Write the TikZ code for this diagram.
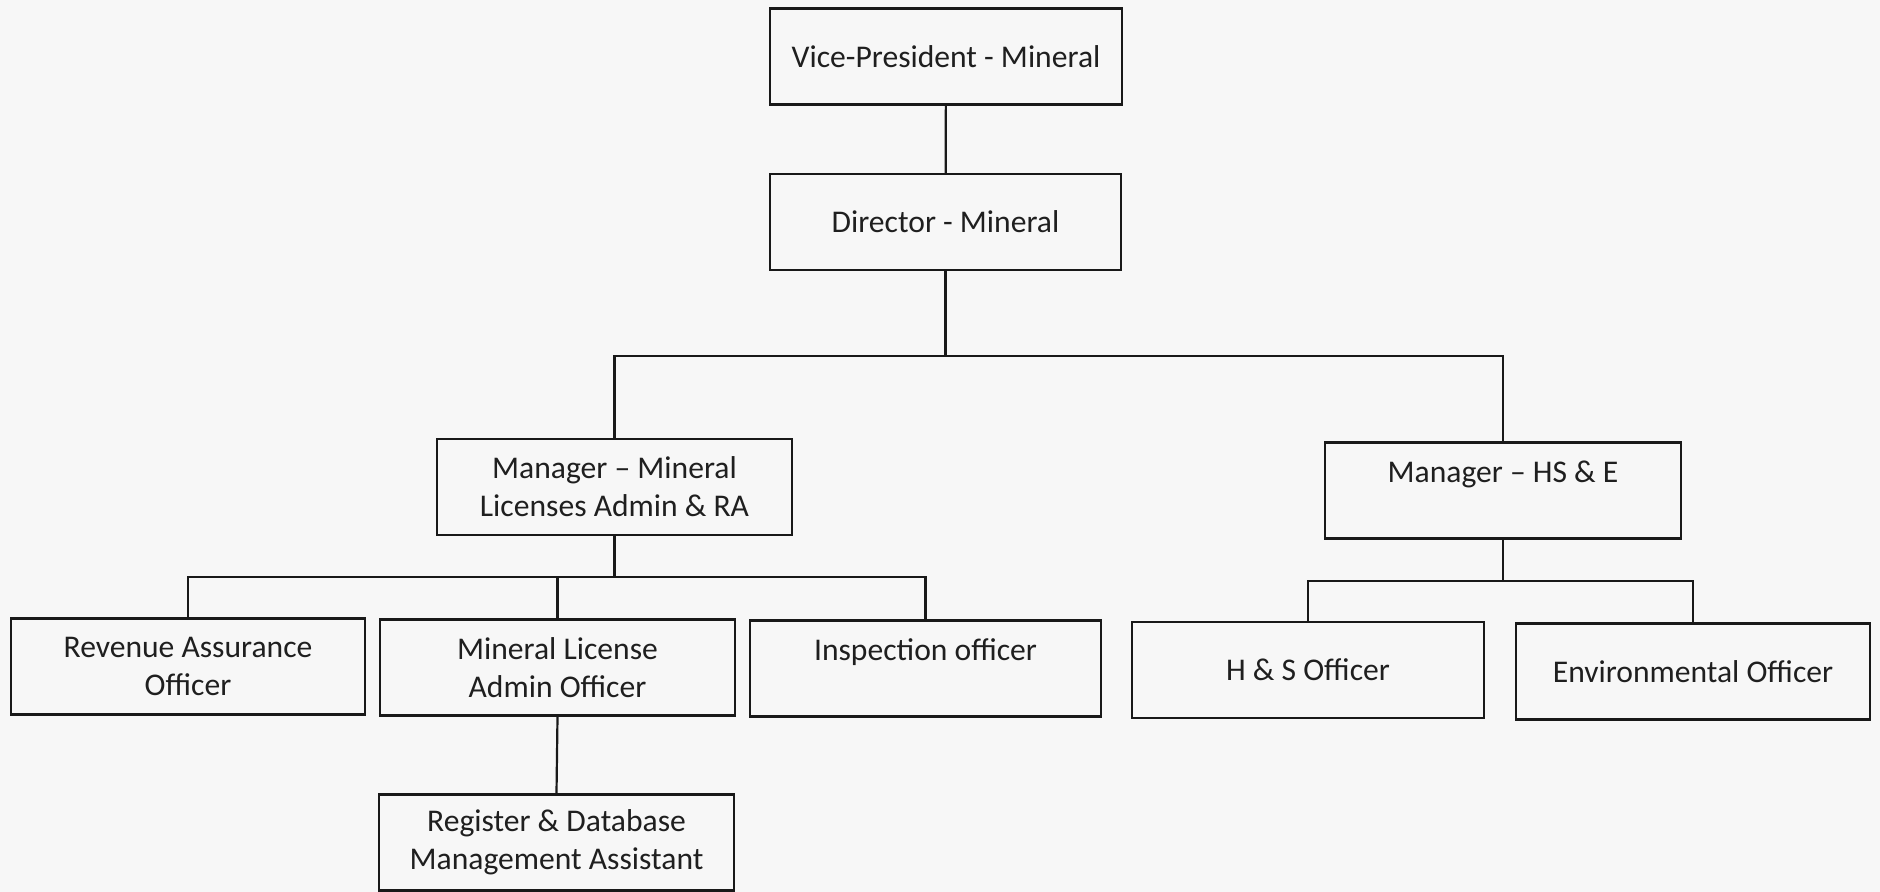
\documentclass[tikz,border=0pt]{standalone}
\usepackage{fontspec}
\setmainfont{Carlito}
\begin{document}
\begin{tikzpicture}[x=0.5pt,y=-0.5pt,
  box/.style={draw=black!90, line width=1.2pt, fill=white!97!black, rectangle, align=center,
    inner sep=0pt, minimum height=48pt, text=black!88,
    font=\fontsize{15.8}{19}\selectfont},
  wbox/.style={box, minimum width=#1*0.5pt},
  link/.style={draw=black!90, line width=1.1pt}]
\fill[white!97!black] (0,0) rectangle (1880,892);
\useasboundingbox (0,0) rectangle (1880,892);
\node[wbox=352] (vp)   at (946,56.5)   {Vice-President - Mineral};
\node[wbox=351] (dir)  at (945.5,222)  {Director - Mineral};
\node[wbox=355] (mgrm) at (614.5,487)  {Manager -- Mineral\\Licenses Admin \& RA};
\node[wbox=356] (mgrh) at (1503,490.5) {Manager -- HS \& E\\\mbox{}};
\node[wbox=354] (rev)  at (188,666.5)  {Revenue Assurance\\Officer};
\node[wbox=355] (mla)  at (557.5,667.5){Mineral License\\Admin Officer};
\node[wbox=351] (insp) at (925.5,668.5){Inspection officer\\\mbox{}};
\node[wbox=352] (hs)   at (1308,670)   {H \& S Officer};
\node[wbox=354] (env)  at (1693,671.5) {Environmental Officer};
\node[wbox=355] (reg)  at (556.5,842.5){Register \& Database\\Management Assistant};
\coordinate (b1) at (0,356);
\coordinate (b2) at (0,577);
\coordinate (b3) at (0,581);
\draw[link] (vp) -- (dir);
\draw[link] (dir.south) -- (dir.south |- b1);
\draw[link] (mgrm.north) -- (mgrm.north |- b1) -- (mgrh.north |- b1) -- (mgrh.north);
\draw[link] (mgrm.south) -- (mgrm.south |- b2);
\draw[link] (rev.north) -- (rev.north |- b2) -- (insp.north |- b2) -- (insp.north);
\draw[link] (mla.north) -- (mla.north |- b2);
\draw[link] (mgrh.south) -- (mgrh.south |- b3);
\draw[link] (hs.north) -- (hs.north |- b3) -- (env.north |- b3) -- (env.north);
\draw[link] (mla.south) -- (reg.north);
\end{tikzpicture}
\end{document}
